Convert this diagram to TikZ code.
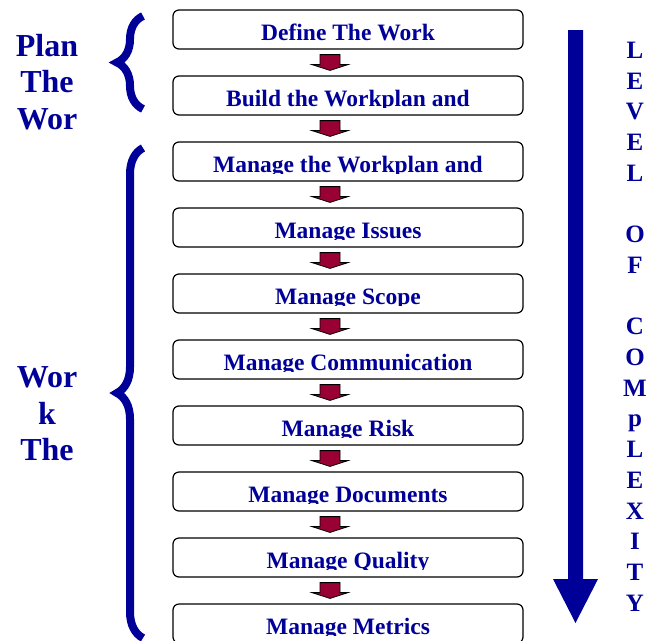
\documentclass[tikz,border=0pt]{standalone}
\usepackage{fontspec}
\setmainfont{Liberation Serif}
\usetikzlibrary{calc}
\usetikzlibrary{positioning}
\usetikzlibrary{decorations.pathreplacing}
\definecolor{navy}{HTML}{000099}
\definecolor{wine}{HTML}{990033}
\tikzset{
    boxfont/.style={
        font=\fontsize{23.5}{23.5}\selectfont\bfseries,
        text=navy
    },
    stepbox/.style={
        draw=black,
        line width=1.2pt,
        rounded corners=6pt,
        fill=white,
        minimum width=350pt,
        minimum height=39pt,
        inner sep=0pt,
        path picture={
            % text sits low and is cut at the baseline
            \clip ([yshift=7.5pt]path picture bounding box.south west)
                rectangle (path picture bounding box.north east);
            \node [boxfont, anchor=base]
                at ([yshift=8.3pt]path picture bounding box.south) {#1};
        }
    },
    flowarrow/.style={
        fill=wine,
        draw=black,
        line width=0.8pt,
        line join=miter
    },
    sidelabel/.style={
        font=\fontsize{32}{36.5}\selectfont\bfseries,
        text=navy,
        align=center,
        inner sep=0pt
    },
    levellabel/.style={
        font=\fontsize{25}{30.7}\selectfont\bfseries,
        text=navy,
        align=center,
        inner sep=0pt
    },
    bigbrace/.style={
        draw=navy,
        line width=8pt,
        decorate,
        decoration={brace, amplitude=26pt, aspect=0.5}
    }
}

\begin{document}
\begin{tikzpicture}[x=1pt, y=-1pt]
\useasboundingbox (0,0) rectangle (647,640);

% steps
\foreach \t [count=\i] in {
    Define The Work,
    Build the Workplan and,
    Manage the Workplan and,
    Manage Issues,
    Manage Scope,
    Manage Communication,
    Manage Risk,
    Manage Documents,
    Manage Quality,
    Manage Metrics
}{
    \node [stepbox=\t] (b\i) at (348, {29.5+66*(\i-1)}) {};
}

% arrows between the steps (a little left of centre)
\foreach \i in {1,...,9}{
    \pgfmathtruncatemacro{\j}{\i+1}
    \filldraw [flowarrow] ($(b\i.south)+(-28,5)$) -- ++(20,0) -- ++(0,10)
        -- ++(8,0) -- ($(b\j.north)+(-18,-5)$) -- ($(b\i.south)+(-36,15)$)
        -- ++(8,0) -- cycle;
}

% braces and their labels
\coordinate (plantop) at (143,16);
\coordinate (planbot) at (143,109);
\coordinate (worktop) at (143,148);
\coordinate (workbot) at (143,638);
\draw [bigbrace] (planbot) -- (plantop);
\draw [bigbrace] (workbot) -- (worktop);

\node [sidelabel] (plan) at (47,82) {Plan\\The\\Wor};
\node [sidelabel] (work) at (47,414) {Wor\\k\\The};

% level of complexity
\fill [navy] (568,30) -- (583,30) -- (583,579) -- (598,579)
    -- (575.5,623) -- (553,579) -- (568,579) -- cycle;
\node [levellabel, anchor=north] (level) at (635,42)
    {L\\E\\V\\E\\L\\~\\O\\F\\~\\C\\O\\M\\p\\L\\E\\X\\I\\T\\Y};
\end{tikzpicture}
\end{document}
